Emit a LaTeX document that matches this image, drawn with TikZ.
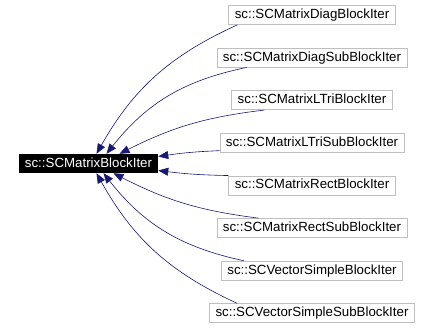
\documentclass[tikz,border=0pt]{standalone}
\usepackage{fontspec}
\setmainfont{Liberation Sans}
\usetikzlibrary{arrows.meta,positioning}
\definecolor{Navy}{HTML}{191970}
\definecolor{Frame}{HTML}{BFBFBF}

\begin{document}
\begin{tikzpicture}[x=1pt, y=1pt, node distance=22.9pt, every node/.style={font=\fontsize{13.3}{15}\selectfont, inner xsep=6pt, inner ysep=0pt, minimum height=19pt, text height=10pt, text depth=3pt}, cls/.style={draw=Frame, line width=0.7pt}, basecls/.style={fill=black, text=white}, arr/.style={-{Triangle[length=10pt,width=8pt]}, draw=Navy, line width=0.6pt}]
\useasboundingbox (0,0) rectangle (433,-329);
\node[cls] (d1) at (312,-15) {sc::SCMatrixDiagBlockIter};
\node[cls,below=of d1] (d2) {sc::SCMatrixDiagSubBlockIter};
\node[cls,below=of d2] (d3) {sc::SCMatrixLTriBlockIter};
\node[cls,below=of d3] (d4) {sc::SCMatrixLTriSubBlockIter};
\node[cls,below=of d4] (d5) {sc::SCMatrixRectBlockIter};
\node[cls,below=of d5] (d6) {sc::SCMatrixRectSubBlockIter};
\node[cls,below=of d6] (d7) {sc::SCVectorSimpleBlockIter};
\node[cls,below=of d7] (d8) {sc::SCVectorSimpleSubBlockIter};
\node[basecls] (base) at (88.5,-163.5) {sc::SCMatrixBlockIter};
% derived classes point to the base
\draw[arr] ([xshift=9pt]d1.south west) to[bend right=18] ([xshift=8pt]base.north);
\draw[arr] ([xshift=30pt]d2.south west) to[bend right=20] ([xshift=18pt]base.north);
\draw[arr] ([xshift=33pt]d3.south west) to[bend right=10] ([xshift=31pt]base.north);
\draw[arr] ([yshift=2pt]d4.south west) to[bend right=3] ([yshift=7pt]base.east);
\draw[arr] (d5.north west) to[bend left=3] ([yshift=-7pt]base.east);
\draw[arr] ([xshift=42pt]d6.north west) to[bend left=10] ([xshift=25pt]base.south);
\draw[arr] ([xshift=23pt]d7.north west) to[bend left=20] ([xshift=15pt]base.south);
\draw[arr] ([xshift=28pt]d8.north west) to[bend left=18] ([xshift=8pt]base.south);
\end{tikzpicture}
\end{document}
